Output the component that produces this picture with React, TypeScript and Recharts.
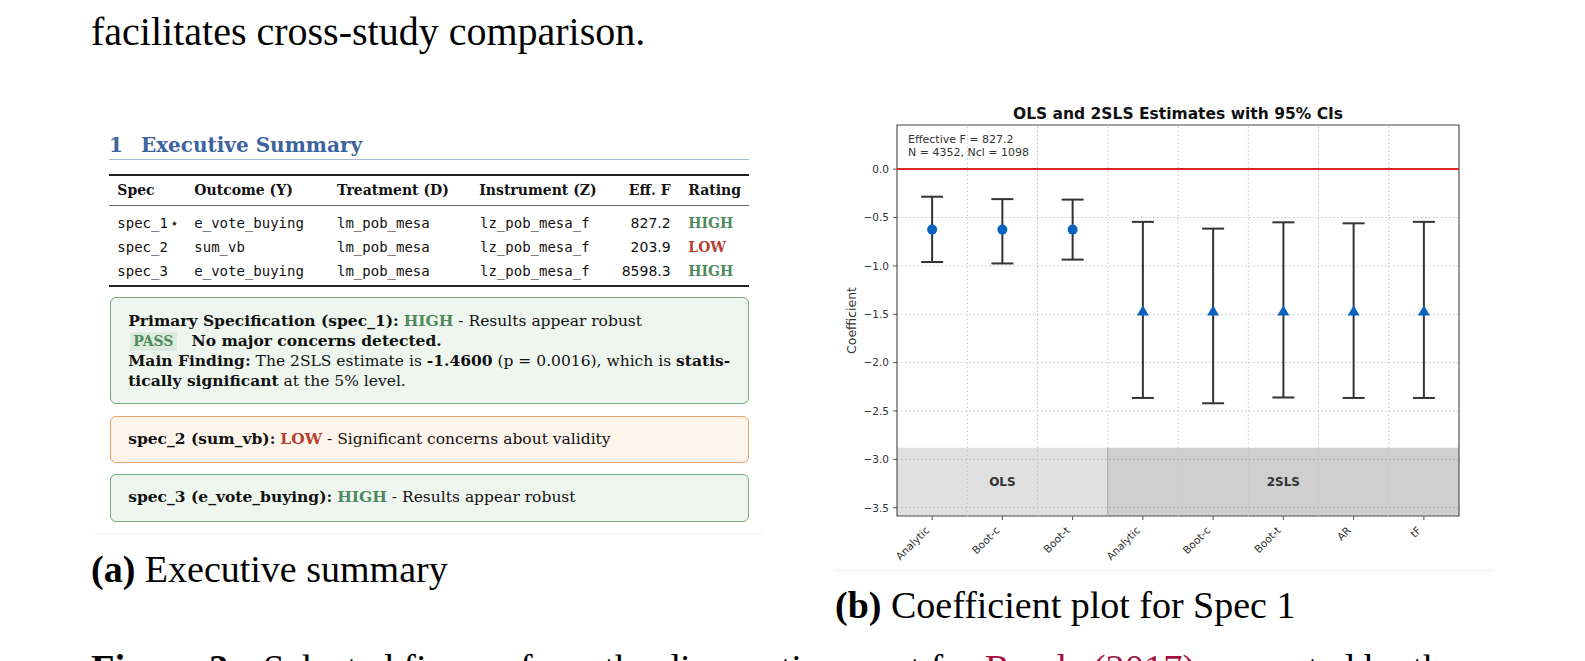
import React from "react";
import {
  CartesianGrid,
  ErrorBar,
  ReferenceArea,
  ReferenceLine,
  Scatter,
  ScatterChart,
  XAxis,
  YAxis,
} from "recharts";

// coefficient plot data (spec_1)
const methodLabels = ["Analytic", "Boot-c", "Boot-t", "Analytic", "Boot-c", "Boot-t", "AR", "tF"];
const olsEstimate = [-0.625, -0.625, -0.625];
const olsLower = [-0.96, -0.975, -0.935];
const olsUpper = [-0.285, -0.31, -0.315];
const tslsEstimate = [-1.46, -1.46, -1.46, -1.46, -1.46];
const tslsLower = [-2.365, -2.42, -2.36, -2.365, -2.365];
const tslsUpper = [-0.545, -0.615, -0.55, -0.56, -0.545];
const yTicks = [0, -0.5, -1, -1.5, -2, -2.5, -3, -3.5];
const yDomain = [-3.585, 0.456];
const xDomain = [-0.5, 7.5];
const groupNames = ["OLS", "2SLS"];
const groupSpans = [
  [-0.5, 2.5],
  [2.5, 7.5],
];
const bandTop = -2.88;
const cellEdges = [0.5, 1.5, 2.5, 3.5, 4.5, 5.5, 6.5];

// executive summary table
const specs = ["spec_1", "spec_2", "spec_3"];
const outcomes = ["e_vote_buying", "sum_vb", "e_vote_buying"];
const treatments = ["lm_pob_mesa", "lm_pob_mesa", "lm_pob_mesa"];
const instruments = ["lz_pob_mesa_f", "lz_pob_mesa_f", "lz_pob_mesa_f"];
const effF = ["827.2", "203.9", "8598.3"];
const ratings = ["HIGH", "LOW", "HIGH"];

const sans = "'DejaVu Sans', sans-serif";
const serif = "'DejaVu Serif', serif";
const mono = "'DejaVu Sans Mono', monospace";
const paper = "'Liberation Serif', 'Times New Roman', serif";
const BLUE = "#0b63c1";
const GREEN = "#4e8a5c";
const RED = "#b4422f";
const LINK = "#a3123f";

const toPoints = (est: number[], lo: number[], hi: number[], start: number) =>
  est.map((y, i) => ({ x: start + i, y, ci: [y - lo[i], hi[i] - y] }));

const olsPoints = toPoints(olsEstimate, olsLower, olsUpper, 0);
const tslsPoints = toPoints(tslsEstimate, tslsLower, tslsUpper, olsEstimate.length);

const fmtY = (v: number) => (v === 0 ? "0.0" : "\u2212" + Math.abs(v).toFixed(1));

function MethodTick({ x, y, payload }: any) {
  const tx = x - 2;
  const ty = y + 9;
  return (
    <text
      x={tx}
      y={ty}
      transform={`rotate(-45, ${tx}, ${ty})`}
      textAnchor="end"
      fontSize={10.5}
      fill="#333"
      fontFamily={sans}
    >
      {methodLabels[payload.value]}
    </text>
  );
}

function FrameLabels({ viewBox }: any) {
  const { x, y, width, height } = viewBox;
  return (
    <g fontFamily={sans}>
      <text x={x + width / 2} y={y - 6.5} textAnchor="middle" fontSize={15.5} fontWeight="bold" fill="#111">
        OLS and 2SLS Estimates with 95% CIs
      </text>
      <text x={x + 11} y={y + 18.3} fontSize={11} fill="#333">
        Effective F = 827.2
      </text>
      <text x={x + 11} y={y + 30.7} fontSize={11} fill="#333">
        N = 4352, Ncl = 1098
      </text>
      <text
        x={x - 41}
        y={y + height / 2}
        transform={`rotate(-90, ${x - 41}, ${y + height / 2})`}
        textAnchor="middle"
        fontSize={12.5}
        fill="#333"
      >
        Coefficient
      </text>
    </g>
  );
}

const circleMarker = (p: any) => <circle cx={p.cx} cy={p.cy} r={5} fill={BLUE} />;
const triangleMarker = (p: any) => (
  <polygon
    points={`${p.cx},${p.cy - 5.2} ${p.cx - 6},${p.cy + 5} ${p.cx + 6},${p.cy + 5}`}
    fill={BLUE}
  />
);

function CoefficientPlot() {
  return (
    <ScatterChart width={650} height={480} margin={{ top: 30, right: 21, bottom: 9, left: 17 }}>
      <CartesianGrid vertical={false} stroke="#c4c4c4" strokeDasharray="1.5 2.5" />
      {groupNames.map((name, i) => (
        <ReferenceArea
          key={name}
          x1={groupSpans[i][0]}
          x2={groupSpans[i][1]}
          y1={yDomain[0]}
          y2={bandTop}
          fill="#000"
          fillOpacity={i === 0 ? 0.12 : 0.19}
          stroke="none"
          label={{
            value: name,
            position: "center",
            fontSize: 12,
            fontWeight: "bold",
            fill: "#333",
            fontFamily: sans,
          }}
        />
      ))}
      {cellEdges.map((v) => (
        <ReferenceLine key={v} x={v} stroke="#c4c4c4" strokeDasharray="1.5 2.5" />
      ))}
      <ReferenceLine
        segment={[
          { x: groupSpans[1][0], y: yDomain[0] },
          { x: groupSpans[1][0], y: bandTop },
        ]}
        stroke="#a8a8a8"
      />
      <ReferenceLine y={0} stroke="#dc2626" strokeWidth={2} />
      <ReferenceArea
        x1={xDomain[0]}
        x2={xDomain[1]}
        y1={yDomain[0]}
        y2={yDomain[1]}
        fill="none"
        stroke="#555"
        strokeWidth={1.2}
        label={{ content: (props: any) => <FrameLabels viewBox={props.viewBox} /> }}
      />
      <XAxis
        type="number"
        dataKey="x"
        domain={xDomain}
        ticks={methodLabels.map((_, i) => i)}
        interval={0}
        allowDataOverflow
        axisLine={false}
        tickLine={{ stroke: "#555" }}
        tickSize={4}
        height={50}
        tick={<MethodTick />}
      />
      <YAxis
        type="number"
        dataKey="y"
        domain={yDomain}
        ticks={yTicks}
        interval={0}
        allowDataOverflow
        axisLine={false}
        tickLine={{ stroke: "#555" }}
        tickSize={4}
        tickMargin={4}
        width={50}
        tickFormatter={fmtY}
        tick={{ fontSize: 10.5, fill: "#333", fontFamily: sans }}
      />
      <Scatter data={olsPoints} shape={circleMarker} isAnimationActive={false}>
        <ErrorBar dataKey="ci" direction="y" width={11} stroke="#333" strokeWidth={2} isAnimationActive={false} />
      </Scatter>
      <Scatter data={tslsPoints} shape={triangleMarker} isAnimationActive={false}>
        <ErrorBar dataKey="ci" direction="y" width={11} stroke="#333" strokeWidth={2} isAnimationActive={false} />
      </Scatter>
    </ScatterChart>
  );
}

const abs = (left: number, top: number, extra: React.CSSProperties = {}): React.CSSProperties => ({
  position: "absolute",
  left,
  top,
  whiteSpace: "nowrap",
  ...extra,
});

const rowTops = [216, 239.7, 263.6];

function SummaryPanel() {
  const cell = (left: number, top: number, font: string, extra: React.CSSProperties = {}) =>
    abs(left, top, { fontFamily: font, fontSize: 14, lineHeight: "14px", color: "#111", ...extra });
  const box = (top: number, height: number, border: string, bg: string): React.CSSProperties => ({
    position: "absolute",
    left: 109.5,
    top,
    width: 639.5,
    height,
    boxSizing: "border-box",
    border: `1.5px solid ${border}`,
    borderRadius: 6,
    background: bg,
  });
  const boxText: React.CSSProperties = { fontFamily: serif, fontSize: 15.5, lineHeight: "20px", color: "#111" };
  return (
    <>
      <div style={abs(109, 134.8, { fontFamily: serif, fontSize: 20, lineHeight: "20px", fontWeight: "bold", color: "#3d63a0" })}>
        1<span style={{ marginLeft: 18 }}>Executive Summary</span>
      </div>
      <div style={abs(109, 159, { width: 640, height: 1, background: "#a8b8d4" })} />
      <div style={abs(109, 174, { width: 640, height: 2, background: "#222" })} />
      <div style={abs(109, 205, { width: 640, height: 1, background: "#666" })} />
      <div style={abs(109, 285, { width: 640, height: 2, background: "#222" })} />

      {[
        ["Spec", 117.3],
        ["Outcome (Y)", 194.3],
        ["Treatment (D)", 337],
        ["Instrument (Z)", 479.3],
        ["Rating", 688.3],
      ].map(([t, l]) => (
        <div key={t as string} style={cell(l as number, 183.2, serif, { fontWeight: "bold" })}>
          {t}
        </div>
      ))}
      <div style={cell(600, 183.2, serif, { fontWeight: "bold", width: 70.7, textAlign: "right" })}>Eff. F</div>

      {specs.map((s, i) => (
        <React.Fragment key={s}>
          <div style={cell(117.3, rowTops[i], mono)}>
            {s}
            {i === 0 ? <span style={{ fontFamily: sans, fontSize: 14, marginLeft: 2 }}>{"\u22C6"}</span> : null}
          </div>
          <div style={cell(194.3, rowTops[i], mono)}>{outcomes[i]}</div>
          <div style={cell(337, rowTops[i], mono)}>{treatments[i]}</div>
          <div style={cell(480, rowTops[i], mono)}>{instruments[i]}</div>
          <div style={cell(600, rowTops[i], sans, { width: 70.7, textAlign: "right" })}>{effF[i]}</div>
          <div
            style={cell(688.3, rowTops[i], serif, {
              fontWeight: "bold",
              color: ratings[i] === "HIGH" ? GREEN : RED,
            })}
          >
            {ratings[i]}
          </div>
        </React.Fragment>
      ))}

      <div style={box(297.3, 107, "#72a97e", "#eff6f0")} />
      <div style={box(415.7, 47, "#e3a56b", "#fdf4ec")} />
      <div style={box(474.3, 47.4, "#72a97e", "#eff6f0")} />

      <div style={abs(128.2, 311, boxText)}>
        <b>Primary Specification (spec_1):</b> <b style={{ color: GREEN }}>HIGH</b> - Results appear robust
        <br />
        <span
          style={{
            display: "inline-block",
            marginLeft: 2,
            padding: "0 4px 0 3px",
            fontSize: 14,
            lineHeight: "19px",
            background: "#dcebdd",
            color: GREEN,
            fontWeight: "bold",
          }}
        >
          PASS
        </span>
        <b style={{ marginLeft: 14 }}>No major concerns detected.</b>
        <br />
        <b>Main Finding:</b> The 2SLS estimate is <b>-1.4600</b> (p = 0.0016), which is <b>statis-</b>
        <br />
        <b>tically significant</b> at the 5% level.
      </div>
      <div style={abs(128.2, 428.5, boxText)}>
        <b>spec_2 (sum_vb):</b> <b style={{ color: RED }}>LOW</b> - Significant concerns about validity
      </div>
      <div style={abs(128.2, 487, boxText)}>
        <b>spec_3 (e_vote_buying):</b> <b style={{ color: GREEN }}>HIGH</b> - Results appear robust
      </div>
    </>
  );
}

export default function App() {
  const paperText = (left: number, top: number, size: number): React.CSSProperties =>
    abs(left, top, { fontFamily: paper, fontSize: size, lineHeight: `${size}px`, color: "#000" });
  return (
    <div
      style={{
        position: "fixed",
        left: 0,
        top: 0,
        width: 1585,
        height: 661,
        overflow: "hidden",
        background: "#fff",
      }}
    >
      <div style={paperText(91, 11.5, 40)}>facilitates cross-study comparison.</div>

      <SummaryPanel />
      <div style={abs(94, 533, { width: 669, height: 1, background: "#f0f0f0" })} />

      <div style={{ position: "absolute", left: 830, top: 95 }}>
        <CoefficientPlot />
      </div>
      <div style={abs(834, 570, { width: 660, height: 1, background: "#ececec" })} />

      <div style={paperText(91, 549.9, 38)}>
        <b>(a)</b> Executive summary
      </div>
      <div style={paperText(835, 586.2, 38)}>
        <b>(b)</b> Coefficient plot for Spec 1
      </div>
      <div style={paperText(91, 648.5, 38.5)}>
        <b>Figure 2:</b>
        <span style={{ marginLeft: 22 }}>Selected figures from the diagnostic report for </span>
        <span style={{ color: LINK }}>Rueda</span> <span style={{ color: LINK }}>(2017)</span> generated by the
      </div>
    </div>
  );
}
